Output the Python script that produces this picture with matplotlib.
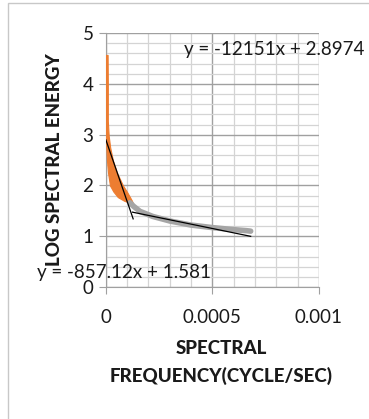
import matplotlib.pyplot as plt
import matplotlib.patches as patches
from matplotlib.ticker import MultipleLocator

plt.rcParams['font.family'] = ['Lato', 'DejaVu Sans']

# orange series: band of points near the origin (y level, left x edge, right x edge)
orange_y = [4.57, 4.0, 3.5, 3.27, 2.98, 2.75, 2.49, 2.25, 2.0, 1.88, 1.77, 1.70, 1.66]
orange_left = [0.0, 0.0, 0.0, 0.0, 0.0, 0.000002, 0.000005, 0.000010, 0.000019, 0.000035, 0.000056, 0.000085, 0.000110]
orange_right = [0.000008, 0.000009, 0.000009, 0.000009, 0.000013, 0.000020, 0.000033, 0.000052, 0.000080, 0.000098, 0.000113, 0.000122, 0.000126]

# gray series
gray_x = [0.000113, 0.000130, 0.000160, 0.000220, 0.000300, 0.000400, 0.000500, 0.000600, 0.000660, 0.000680]
gray_y = [1.66, 1.59, 1.49, 1.39, 1.30, 1.22, 1.17, 1.13, 1.11, 1.10]

# trendlines
fit1 = (-12151, 2.8974)
fit2 = (-857.12, 1.581)
fit1_x = [0.0, 0.000128]
fit2_x = [0.000125, 0.00068]

txt = '#1a1a1a'

fig = plt.figure(figsize=(3.69, 4.19), dpi=100)
ax = fig.add_axes([0.287, 0.315, 0.577, 0.606])

ax.fill_betweenx(orange_y, orange_left, orange_right, color='#ED7D31', lw=0.8, edgecolor='#ED7D31', zorder=3)
ax.plot(gray_x, gray_y, color='#A5A5A5', lw=4, solid_capstyle='round', zorder=3)

ax.plot(fit1_x, [fit1[0] * x + fit1[1] for x in fit1_x], color='black', lw=0.9, zorder=4)
ax.plot(fit2_x, [fit2[0] * x + fit2[1] for x in fit2_x], color='black', lw=0.9, zorder=4)

ax.set_xlim(0, 0.001)
ax.set_ylim(0, 5)
ax.set_xticks([0, 0.0005, 0.001])
ax.set_xticklabels(['0', '0.0005', '0.001'])
ax.set_yticks([0, 1, 2, 3, 4, 5])
ax.xaxis.set_minor_locator(MultipleLocator(0.0001))
ax.yaxis.set_minor_locator(MultipleLocator(0.2))
ax.grid(True, which='major', color='#a0a0a0', lw=1.0)
ax.grid(True, which='minor', color='#d4d4d4', lw=0.9)
ax.set_axisbelow(True)
ax.tick_params(which='minor', length=0)
ax.tick_params(which='major', length=5, color='#a0a0a0', labelsize=13.5, labelcolor=txt)
ax.tick_params(axis='x', pad=11)
ax.tick_params(axis='y', pad=4)
for s in ['top', 'right']:
    ax.spines[s].set_visible(False)
for s in ['left', 'bottom']:
    ax.spines[s].set_color('#a0a0a0')

fig.text(55 / 369, 1 - 160 / 419, 'LOG SPECTRAL ENERGY', rotation=90, ha='center', va='center',
         fontsize=13.5, fontweight='black', color=txt)

fig.text(221 / 369, 1 - 348 / 419, 'SPECTRAL', ha='center', va='center', fontsize=13.5, fontweight='black', color=txt)
fig.text(221 / 369, 1 - 376 / 419, 'FREQUENCY(CYCLE/SEC)', ha='center', va='center', fontsize=13.5, fontweight='black', color=txt)

fig.text(274 / 369, 1 - 50 / 419, 'y = -12151x + 2.8974', ha='center', va='center', fontsize=13.5, color=txt)
fig.text(124 / 369, 1 - 272 / 419, 'y = -857.12x + 1.581', ha='center', va='center', fontsize=13.5, color=txt)

# chart area border
fig.patches.append(patches.Rectangle((8 / 369, -0.1), 1.2, 0.1 + 1 - 3 / 419, transform=fig.transFigure,
                                     fill=False, edgecolor='#c8c8c8', lw=1))

fig.savefig('out.png', dpi=100)
